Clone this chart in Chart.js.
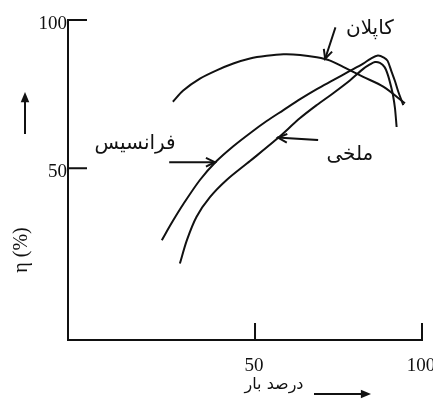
<!DOCTYPE html>
<html>
<head>
<meta charset="utf-8">
<script src="https://cdn.jsdelivr.net/npm/chart.js@4.4.1/dist/chart.umd.min.js"></script>
<style>
  html, body { margin: 0; padding: 0; background: #fff; }
  #wrap { width: 433px; height: 405px; }
</style>
</head>
<body>
<div id="wrap"><canvas id="effChart" width="433" height="405"></canvas></div>
<script>
// load (%) and efficiency (%)
var kaplanLoad = [25.4, 28.5, 33.5, 38.5, 43.5, 48.5, 53.5, 58.5, 63.5, 68.5, 72.5, 76.4, 82.4, 88.4, 94.9];
var kaplanEff  = [72.4, 76.2, 80.2, 83.0, 85.3, 87.0, 87.9, 88.4, 88.2, 87.4, 86.3, 84.2, 80.8, 77.5, 71.9];

var francisLoad = [22.1, 25.2, 28.5, 33.5, 38.5, 43.5, 48.5, 53.5, 58.5, 63.5, 68.5, 73.4, 78.4, 82.4,
                   84.7, 86.8, 88.6, 89.7, 90.9, 91.9, 92.9, 94.4];
var francisEff  = [25.7, 31.8, 37.8, 46.0, 52.4, 57.4, 61.8, 65.9, 69.6, 73.3, 76.7, 79.7, 82.8, 85.3,
                   87.0, 88.0, 87.3, 86.2, 82.5, 79.4, 75.8, 71.3];

var propLoad = [27.5, 29.6, 32.5, 36.5, 41.5, 48.5, 56.5, 63.5, 68.5, 73.4, 78.4, 82.4, 84.4, 85.9,
                87.4, 88.8, 89.8, 90.7, 91.3, 91.9, 92.4];
var propEff  = [17.8, 25.7, 33.6, 40.2, 46.0, 52.4, 59.8, 66.9, 71.3, 75.3, 79.6, 83.5, 85.0, 85.8,
                85.5, 84.1, 81.4, 77.7, 74.7, 70.3, 63.9];

var xTicks = [50, 100];
var yTicks = [50, 100];

var curveNames = ['کاپلان', 'فرانسیس', 'ملخی'];
var xTitle = 'درصد بار';
var yTitle = 'η (%)';

function pts(xs, ys) {
  return xs.map(function(x, i) { return { x: x, y: ys[i] }; });
}

// label + arrow for each curve, in data units
var notes = [
  { text: curveNames[0], at: [84.4, 97.0], from: [74.0, 97.2], to: [71.0, 86.9] },
  { text: curveNames[1], at: [14.1, 58.3], from: [24.6, 52.0], to: [38.0, 52.0] },
  { text: curveNames[2], at: [78.4, 54.4], from: [68.6, 59.5], to: [56.9, 60.3] }
];

var serif = '"Liberation Serif", "DejaVu Serif", serif';
var persian = '"DejaVu Sans", "Noto Sans", sans-serif';

function arrowHead(ctx, x0, y0, x1, y1, size) {
  var ang = Math.atan2(y1 - y0, x1 - x0);
  ctx.beginPath();
  ctx.moveTo(x1 - size * Math.cos(ang - 0.45), y1 - size * Math.sin(ang - 0.45));
  ctx.lineTo(x1, y1);
  ctx.lineTo(x1 - size * Math.cos(ang + 0.45), y1 - size * Math.sin(ang + 0.45));
  ctx.stroke();
}

function solidHead(ctx, x1, y1, ang, size) {
  ctx.beginPath();
  ctx.moveTo(x1, y1);
  ctx.lineTo(x1 - size * Math.cos(ang - 0.4), y1 - size * Math.sin(ang - 0.4));
  ctx.lineTo(x1 - size * Math.cos(ang + 0.4), y1 - size * Math.sin(ang + 0.4));
  ctx.closePath();
  ctx.fill();
}

var axisDecor = {
  id: 'axisDecor',
  afterDraw: function(chart) {
    var ctx = chart.ctx, a = chart.chartArea;
    var xs = chart.scales.x, ys = chart.scales.y;
    ctx.save();
    ctx.strokeStyle = '#111';
    ctx.fillStyle = '#111';
    ctx.lineWidth = 2;
    ctx.lineCap = 'square';

    // axis lines
    ctx.beginPath();
    ctx.moveTo(a.left, a.top);
    ctx.lineTo(a.left, a.bottom);
    ctx.lineTo(a.right, a.bottom);
    ctx.stroke();

    // inward ticks
    ctx.beginPath();
    yTicks.forEach(function(v) {
      var py = ys.getPixelForValue(v);
      ctx.moveTo(a.left, py);
      ctx.lineTo(a.left + 18, py);
    });
    xTicks.forEach(function(v) {
      var px = xs.getPixelForValue(v);
      ctx.moveTo(px, a.bottom);
      ctx.lineTo(px, a.bottom - 16);
    });
    ctx.stroke();

    // tick labels
    ctx.font = '19px ' + serif;
    ctx.textAlign = 'right';
    ctx.textBaseline = 'middle';
    yTicks.forEach(function(v) {
      ctx.fillText(String(v), a.left - 1, ys.getPixelForValue(v) + 4);
    });
    ctx.textAlign = 'center';
    ctx.textBaseline = 'top';
    xTicks.forEach(function(v) {
      ctx.fillText(String(v), xs.getPixelForValue(v) - 1, a.bottom + 17);
    });

    // x title with arrow
    ctx.font = '16px ' + persian;
    ctx.textBaseline = 'middle';
    ctx.fillText(xTitle, a.left + 206, a.bottom + 45);
    ctx.lineWidth = 2;
    ctx.beginPath();
    ctx.moveTo(a.left + 247, a.bottom + 54);
    ctx.lineTo(a.left + 295, a.bottom + 54);
    ctx.stroke();
    solidHead(ctx, a.left + 303, a.bottom + 54, 0, 11);

    // y title with arrow
    ctx.save();
    ctx.translate(22, 250);
    ctx.rotate(-Math.PI / 2);
    ctx.font = '20px ' + serif;
    ctx.fillText(yTitle, 0, 0);
    ctx.restore();
    ctx.beginPath();
    ctx.moveTo(25, 133);
    ctx.lineTo(25, 102);
    ctx.stroke();
    solidHead(ctx, 25, 92, -Math.PI / 2, 11);

    // curve labels and pointers
    ctx.font = '20px ' + persian;
    ctx.lineWidth = 2;
    notes.forEach(function(n) {
      ctx.fillText(n.text, xs.getPixelForValue(n.at[0]), ys.getPixelForValue(n.at[1]));
      var x0 = xs.getPixelForValue(n.from[0]), y0 = ys.getPixelForValue(n.from[1]);
      var x1 = xs.getPixelForValue(n.to[0]), y1 = ys.getPixelForValue(n.to[1]);
      ctx.beginPath();
      ctx.moveTo(x0, y0);
      ctx.lineTo(x1, y1);
      ctx.stroke();
      arrowHead(ctx, x0, y0, x1, y1, 9);
    });
    ctx.restore();
  }
};

var lineStyle = {
  showLine: true,
  borderColor: '#111',
  borderWidth: 2,
  pointRadius: 0,
  tension: 0.3,
  fill: false
};

var ctx = document.getElementById('effChart').getContext('2d');
var chart = new Chart(ctx, {
  type: 'scatter',
  data: {
    datasets: [
      Object.assign({ label: curveNames[0], data: pts(kaplanLoad, kaplanEff) }, lineStyle),
      Object.assign({ label: curveNames[1], data: pts(francisLoad, francisEff) }, lineStyle),
      Object.assign({ label: curveNames[2], data: pts(propLoad, propEff) }, lineStyle)
    ]
  },
  options: {
    responsive: false,
    animation: false,
    layout: {
      padding: { left: 68, right: 11, top: 20, bottom: 65 }
    },
    scales: {
      x: { type: 'linear', min: -6, max: 100, display: false },
      y: { type: 'linear', min: -8, max: 100, display: false }
    },
    plugins: {
      legend: { display: false },
      tooltip: { enabled: false }
    }
  },
  plugins: [axisDecor]
});
</script>
</body>
</html>
